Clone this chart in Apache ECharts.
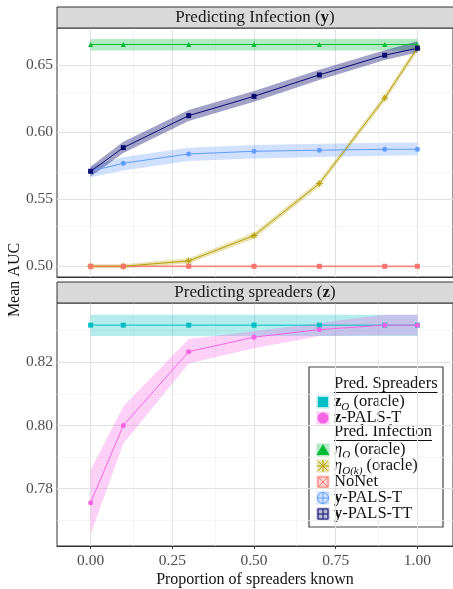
<!DOCTYPE html>
<html>
<head>
<meta charset="utf-8">
<script src="https://cdn.jsdelivr.net/npm/echarts@6/dist/echarts.min.js"></script>
<style>
html, body { margin: 0; padding: 0; background: #fff; }
#main { width: 453px; height: 589px; }
</style>
</head>
<body>
<div id="main"></div>
<script>
var FONT = '"Liberation Serif", "DejaVu Serif", serif';

// x positions (proportion of spreaders known)
var xs = [0, 0.1, 0.3, 0.5, 0.7, 0.9, 1.0];
var xTicks = [0, 0.25, 0.5, 0.75, 1.0];
var xMinor = [0.125, 0.375, 0.625, 0.875];

// top panel: predicting infection
var topTicks = [0.50, 0.55, 0.60, 0.65];
var topMinor = [0.525, 0.575, 0.625, 0.675];
var etaO      = [0.6655, 0.6655, 0.6655, 0.6655, 0.6655, 0.6655, 0.6655];
var etaO_lo   = [0.6610, 0.6610, 0.6610, 0.6610, 0.6610, 0.6610, 0.6610];
var etaO_hi   = [0.6695, 0.6695, 0.6695, 0.6695, 0.6695, 0.6695, 0.6695];
var etaOk     = [0.5000, 0.5000, 0.5040, 0.5229, 0.5617, 0.6256, 0.6627];
var etaOk_lo  = [0.4985, 0.4985, 0.5020, 0.5205, 0.5595, 0.6230, 0.6600];
var etaOk_hi  = [0.5015, 0.5015, 0.5060, 0.5250, 0.5640, 0.6280, 0.6655];
var noNet     = [0.5000, 0.5000, 0.5000, 0.5000, 0.5000, 0.5000, 0.5000];
var noNet_lo  = [0.4990, 0.4990, 0.4990, 0.4990, 0.4990, 0.4990, 0.4990];
var noNet_hi  = [0.5010, 0.5010, 0.5010, 0.5010, 0.5010, 0.5010, 0.5010];
var yPalsT    = [0.5709, 0.5769, 0.5838, 0.5858, 0.5866, 0.5873, 0.5873];
var yPalsT_lo = [0.5665, 0.5715, 0.5785, 0.5805, 0.5815, 0.5825, 0.5828];
var yPalsT_hi = [0.5745, 0.5815, 0.5885, 0.5905, 0.5915, 0.5922, 0.5922];
var yPalsTT    = [0.5709, 0.5885, 0.6124, 0.6268, 0.6428, 0.6575, 0.6627];
var yPalsTT_lo = [0.5670, 0.5845, 0.6084, 0.6228, 0.6390, 0.6540, 0.6595];
var yPalsTT_hi = [0.5745, 0.5930, 0.6166, 0.6308, 0.6466, 0.6612, 0.6680];

// bottom panel: predicting spreaders
var botTicks = [0.78, 0.80, 0.82];
var botMinor = [0.77, 0.79, 0.81, 0.83];
var zO       = [0.8317, 0.8317, 0.8317, 0.8317, 0.8317, 0.8317, 0.8317];
var zO_lo    = [0.8283, 0.8283, 0.8283, 0.8283, 0.8283, 0.8283, 0.8283];
var zO_hi    = [0.8350, 0.8350, 0.8350, 0.8350, 0.8350, 0.8350, 0.8350];
var zPalsT    = [0.7756, 0.8000, 0.8233, 0.8279, 0.8303, 0.8317, 0.8317];
var zPalsT_lo = [0.7656, 0.7943, 0.8196, 0.8244, 0.8283, 0.8285, 0.8285];
var zPalsT_hi = [0.7860, 0.8060, 0.8273, 0.8298, 0.8324, 0.8350, 0.8350];

var C = {
    green: '#00BA38', gold: '#B79F00', salmon: '#F8766D',
    blue: '#619CFF', navy: '#0A0A70', cyan: '#00BFC4', magenta: '#F564E3'
};

var legendRows = [
    { header: 'Pred. Spreaders', y: 384 },
    { text: '{b|z}{sub|O} (oracle)', key: 'square', color: C.cyan, y: 402 },
    { text: '{b|z}-PALS-T', key: 'circle', color: C.magenta, y: 418 },
    { header: 'Pred. Infection', y: 432 },
    { text: '{i|η}{sub|O} (oracle)', key: 'triangle', color: C.green, y: 450 },
    { text: '{i|η}{sub|O(k)} (oracle)', key: 'asterisk', color: C.gold, y: 466 },
    { text: 'NoNet', key: 'boxtimes', color: C.salmon, y: 482 },
    { text: '{b|y}-PALS-T', key: 'oplus', color: C.blue, y: 498 },
    { text: '{b|y}-PALS-TT', key: 'boxplus', color: C.navy, y: 514 }
];

var pts = function (vals) {
    return xs.map(function (x, i) { return [x, vals[i]]; });
};

// ribbon between lo and hi, drawn as one polygon through the axis scales
function band(name, gi, lo, hi, color, alpha) {
    return {
        type: 'custom', name: name + '-band', xAxisIndex: gi, yAxisIndex: gi,
        data: xs.map(function (x, i) { return [x, lo[i], hi[i]]; }),
        encode: { x: 0, y: [1, 2] }, silent: true, z: 8,
        renderItem: function (params, api) {
            if (params.dataIndex !== 0) return;
            var poly = [];
            for (var i = 0; i < xs.length; i++) poly.push(api.coord([xs[i], hi[i]]));
            for (var j = xs.length - 1; j >= 0; j--) poly.push(api.coord([xs[j], lo[j]]));
            return {
                type: 'polygon', shape: { points: poly },
                style: { fill: color, opacity: alpha }
            };
        }
    };
}

function line(name, gi, vals, color, symbol, size, extra) {
    var s = {
        type: 'line', name: name, xAxisIndex: gi, yAxisIndex: gi, data: pts(vals),
        symbol: symbol, symbolSize: size, showSymbol: true,
        lineStyle: { color: color, width: 1 },
        itemStyle: { color: color }, z: 10
    };
    if (extra) s.itemStyle = extra;
    return s;
}

function gridLines(gi, yMajor, yMinor) {
    var d = [];
    xTicks.forEach(function (v) { d.push({ xAxis: v, lineStyle: { color: '#e2e2e2', width: 1.1 } }); });
    xMinor.forEach(function (v) { d.push({ xAxis: v, lineStyle: { color: '#efefef', width: 0.7 } }); });
    yMajor.forEach(function (v) { d.push({ yAxis: v, lineStyle: { color: '#e2e2e2', width: 1.1 } }); });
    yMinor.forEach(function (v) { d.push({ yAxis: v, lineStyle: { color: '#efefef', width: 0.7 } }); });
    return {
        type: 'line', xAxisIndex: gi, yAxisIndex: gi, data: [], silent: true, z: 1,
        markLine: {
            silent: true, symbol: ['none', 'none'], label: { show: false },
            lineStyle: { type: 'solid' }, emphasis: { disabled: true }, data: d
        }
    };
}

var series = [gridLines(0, topTicks, topMinor), gridLines(1, botTicks, botMinor),
    band('etaO', 0, etaO_lo, etaO_hi, C.green, 0.3),
    band('noNet', 0, noNet_lo, noNet_hi, C.salmon, 0.3),
    band('etaOk', 0, etaOk_lo, etaOk_hi, C.gold, 0.3),
    band('yPalsT', 0, yPalsT_lo, yPalsT_hi, C.blue, 0.3),
    band('yPalsTT', 0, yPalsTT_lo, yPalsTT_hi, C.navy, 0.38),
    band('zO', 1, zO_lo, zO_hi, C.cyan, 0.3),
    band('zPalsT', 1, zPalsT_lo, zPalsT_hi, C.magenta, 0.3),
    line('etaO', 0, etaO, C.green, 'triangle', 5),
    line('etaOk', 0, etaOk, C.gold, 'path://M5,0L5,10M0,5L10,5M1.5,1.5L8.5,8.5M1.5,8.5L8.5,1.5', 7,
        { color: C.gold, borderColor: C.gold, borderWidth: 1 }),
    line('noNet', 0, noNet, C.salmon, 'rect', 5),
    line('yPalsT', 0, yPalsT, C.blue, 'circle', 5),
    line('yPalsTT', 0, yPalsTT, C.navy, 'rect', 5),
    line('zO', 1, zO, C.cyan, 'rect', 5),
    line('zPalsT', 1, zPalsT, C.magenta, 'circle', 5)
];

var axisCommon = {
    type: 'value', splitLine: { show: false },
    axisLine: { show: true, lineStyle: { color: '#333', width: 1 } },
    axisTick: { show: false }, axisLabel: { show: false }
};

function yAxis(gi, min, max, ticks) {
    return Object.assign({}, axisCommon, {
        gridIndex: gi, min: min, max: max,
        axisTick: { show: true, length: 3, lineStyle: { color: '#333' }, customValues: ticks },
        axisLabel: {
            show: true, margin: 4, color: '#4d4d4d', fontFamily: FONT, fontSize: 15.5,
            customValues: ticks, formatter: function (v) { return v.toFixed(2); }
        }
    });
}

// legend keys drawn as small shapes
function keyShapes(kind, color, cx, cy) {
    var out = [{ type: 'rect', shape: { x: cx - 6.5, y: cy - 6.5, width: 13, height: 13 },
        style: { fill: color, opacity: 0.3 } }];
    var stroke = { stroke: color, lineWidth: 1, fill: null };
    var l = function (x1, y1, x2, y2) {
        return { type: 'line', shape: { x1: x1, y1: y1, x2: x2, y2: y2 }, style: stroke };
    };
    if (kind === 'square') {
        out.push({ type: 'rect', shape: { x: cx - 5, y: cy - 5, width: 10, height: 10 }, style: { fill: color } });
    } else if (kind === 'circle') {
        out.push({ type: 'circle', shape: { cx: cx, cy: cy, r: 5.5 }, style: { fill: color } });
    } else if (kind === 'triangle') {
        out.push({ type: 'polygon', shape: { points: [[cx, cy - 6], [cx - 6.5, cy + 5], [cx + 6.5, cy + 5]] }, style: { fill: color } });
    } else if (kind === 'asterisk') {
        out.push(l(cx, cy - 6, cx, cy + 6), l(cx - 6, cy, cx + 6, cy),
            l(cx - 4.5, cy - 4.5, cx + 4.5, cy + 4.5), l(cx - 4.5, cy + 4.5, cx + 4.5, cy - 4.5));
    } else if (kind === 'boxtimes') {
        out.push({ type: 'rect', shape: { x: cx - 5, y: cy - 5, width: 10, height: 10 }, style: stroke },
            l(cx - 5, cy - 5, cx + 5, cy + 5), l(cx - 5, cy + 5, cx + 5, cy - 5));
    } else if (kind === 'oplus') {
        out.push({ type: 'circle', shape: { cx: cx, cy: cy, r: 5.5 }, style: stroke },
            l(cx - 5.5, cy, cx + 5.5, cy), l(cx, cy - 5.5, cx, cy + 5.5));
    } else if (kind === 'boxplus') {
        out.push({ type: 'rect', shape: { x: cx - 5, y: cy - 5, width: 10, height: 10 }, style: stroke },
            l(cx - 5, cy, cx + 5, cy), l(cx, cy - 5, cx, cy + 5));
    }
    return out;
}

var LF = 16.5;
var richLegend = {
    b: { fontFamily: FONT, fontSize: LF, fontWeight: 'bold', color: '#111', lineHeight: 22, verticalAlign: 'middle' },
    i: { fontFamily: FONT, fontSize: LF, fontStyle: 'italic', color: '#111', lineHeight: 22, verticalAlign: 'middle' },
    sub: { fontFamily: FONT, fontSize: 11, fontStyle: 'italic', color: '#111', lineHeight: 22, verticalAlign: 'bottom' }
};

var legendEls = [{
    type: 'rect', shape: { x: 309, y: 367, width: 134, height: 160 },
    style: { fill: '#fff', stroke: '#444', lineWidth: 1.2 }
}];
legendRows.forEach(function (r) {
    if (r.header) {
        var w = echarts.format.getTextRect ? echarts.format.getTextRect(r.header, LF + 'px ' + FONT).width : 100;
        legendEls.push({ type: 'text', x: 334, y: r.y, style: {
            text: r.header, font: LF + 'px ' + FONT, fill: '#111', verticalAlign: 'middle' } });
        legendEls.push({ type: 'line', shape: { x1: 334, y1: r.y + 8.5, x2: 334 + w, y2: r.y + 8.5 },
            style: { stroke: '#111', lineWidth: 1 } });
    } else {
        legendEls = legendEls.concat(keyShapes(r.key, r.color, 323, r.y));
        legendEls.push({ type: 'text', x: 334, y: r.y, style: {
            text: r.text, rich: richLegend, font: LF + 'px ' + FONT, fill: '#111',
            verticalAlign: 'middle', lineHeight: 22 } });
    }
});

var stripRich = { b: { fontFamily: FONT, fontSize: 17, fontWeight: 'bold', color: '#1a1a1a' } };

var option = {
    animation: false,
    backgroundColor: '#fff',
    grid: [
        { left: 57, top: 28, width: 400, height: 249, show: true, backgroundColor: '#fff', borderColor: '#333', borderWidth: 1 },
        { left: 57, top: 303, width: 400, height: 249, show: true, backgroundColor: '#fff', borderColor: '#333', borderWidth: 1 }
    ],
    xAxis: [
        Object.assign({}, axisCommon, { gridIndex: 0, min: -0.103, max: 1.109 }),
        Object.assign({}, axisCommon, {
            gridIndex: 1, min: -0.103, max: 1.109,
            axisTick: { show: true, length: 3, lineStyle: { color: '#333' }, customValues: xTicks },
            axisLabel: {
                show: true, margin: 7, color: '#4d4d4d', fontFamily: FONT, fontSize: 15.5,
                customValues: xTicks, formatter: function (v) { return v.toFixed(2); }
            },
            name: 'Proportion of spreaders known', nameLocation: 'middle', nameGap: 26,
            nameTextStyle: { fontFamily: FONT, fontSize: 16, color: '#111' }
        })
    ],
    yAxis: [
        yAxis(0, 0.492, 0.6778, topTicks),
        yAxis(1, 0.7619, 0.8387, botTicks)
    ],
    series: series,
    graphic: [
        { type: 'rect', shape: { x: 57, y: 7, width: 400, height: 21 },
          style: { fill: '#d9d9d9', stroke: '#333', lineWidth: 1 }, z: 50 },
        { type: 'text', x: 255, y: 18, z: 51, style: {
            text: 'Predicting Infection ({b|y})', rich: stripRich, font: '17px ' + FONT,
            fill: '#1a1a1a', align: 'center', verticalAlign: 'middle' } },
        { type: 'rect', shape: { x: 57, y: 282, width: 400, height: 21 },
          style: { fill: '#d9d9d9', stroke: '#333', lineWidth: 1 }, z: 50 },
        { type: 'text', x: 255, y: 293, z: 51, style: {
            text: 'Predicting spreaders ({b|z})', rich: stripRich, font: '17px ' + FONT,
            fill: '#1a1a1a', align: 'center', verticalAlign: 'middle' } },
        { type: 'text', x: 15, y: 280, rotation: Math.PI / 2, z: 51, style: {
            text: 'Mean AUC', font: '16px ' + FONT, fill: '#111', align: 'center', verticalAlign: 'middle' } },
        { type: 'group', z: 60, children: legendEls }
    ]
};

var chart = echarts.init(document.getElementById('main'));
chart.setOption(option);
</script>
</body>
</html>
